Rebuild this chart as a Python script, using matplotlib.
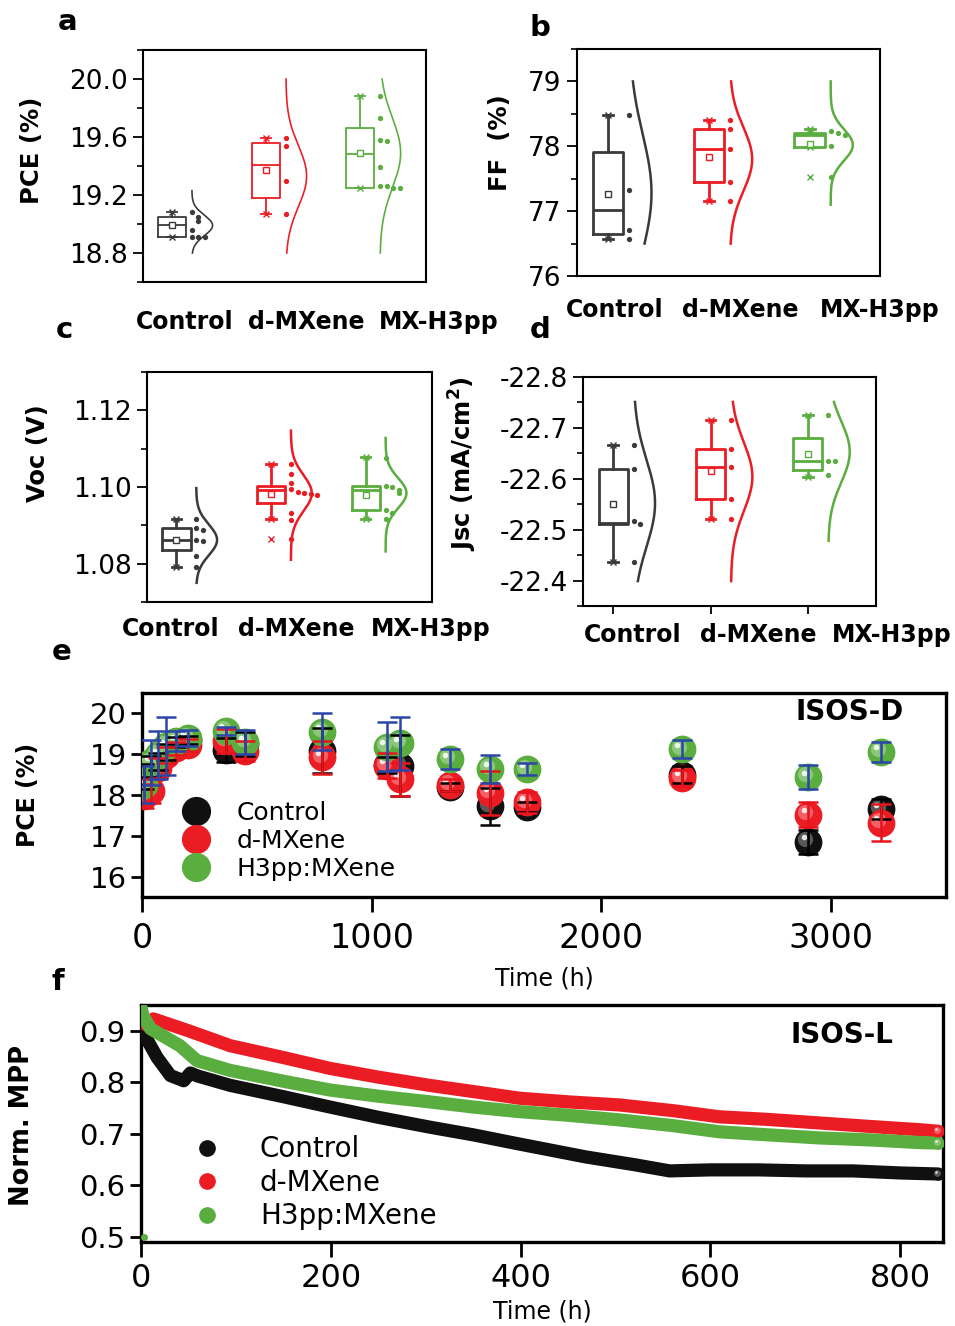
import numpy as np
import matplotlib
matplotlib.use("Agg")
import matplotlib.pyplot as plt
from matplotlib.lines import Line2D
from matplotlib.ticker import MultipleLocator, FormatStrFormatter
from matplotlib.transforms import offset_copy
from matplotlib.colors import to_rgb

plt.rcParams['font.family'] = ['DejaVu Sans']
plt.rcParams['axes.unicode_minus'] = False

# ---- data ----
cats = ["Control", "d-MXene", "MX-H3pp"]
colors = ["#3a3a3a", "#ec1c24", "#5aad3f"]

# a: PCE box stats
pce_q1 = [18.91, 19.18, 19.25]
pce_med = [18.99, 19.41, 19.48]
pce_q3 = [19.05, 19.56, 19.66]
pce_lo = [18.91, 19.07, 19.25]
pce_hi = [19.08, 19.59, 19.88]
pce_mean = [18.99, 19.37, 19.49]
pce_out = [[], [], []]
pce_pts = [[19.08, 19.05, 19.02, 18.96, 18.91, 18.91, 18.91],
           [19.59, 19.54, 19.30, 19.07],
           [19.88, 19.73, 19.58, 19.57, 19.39, 19.26, 19.26, 19.25, 19.25]]
pce_fit = [[18.99, 0.07, 18.80, 19.23], [19.33, 0.21, 18.80, 20.0], [19.49, 0.24, 18.80, 20.0]]

# b: FF
ff_q1 = [76.64, 77.45, 77.99]
ff_med = [77.02, 77.96, 78.18]
ff_q3 = [77.91, 78.27, 78.21]
ff_lo = [76.57, 77.16, 77.99]
ff_hi = [78.48, 78.41, 78.26]
ff_mean = [77.27, 77.84, 78.03]
ff_out = [[], [], [77.53]]
ff_pts = [[78.48, 77.33, 76.71, 76.57],
          [78.41, 78.27, 77.96, 77.45, 77.16],
          [78.23, 78.20, 78.17, 78.00, 77.53]]
ff_fit = [[77.28, 0.90, 76.5, 79.0], [77.80, 0.49, 76.5, 79.0], [78.02, 0.24, 77.1, 79.0]]

# c: Voc
voc_q1 = [1.0835, 1.0957, 1.0939]
voc_med = [1.0863, 1.0993, 1.0993]
voc_q3 = [1.0893, 1.1002, 1.1002]
voc_lo = [1.0791, 1.0917, 1.0917]
voc_hi = [1.0917, 1.1061, 1.1078]
voc_mean = [1.0863, 1.0982, 1.0980]
voc_out = [[], [1.0865], []]
voc_pts = [[1.0917, 1.0894, 1.0888, 1.0862, 1.0858, 1.0821, 1.0791],
           [1.1061, 1.1035, 1.1010, 1.0995, 1.0988, 1.0985, 1.0983, 1.0980, 1.0932, 1.0915, 1.0865],
           [1.1076, 1.1002, 1.0999, 1.0993, 1.0985, 1.0941, 1.0932, 1.0917]]
voc_fit = [[1.0862, 0.0040, 1.0750, 1.0997], [1.0984, 0.0047, 1.0810, 1.1147], [1.0984, 0.0039, 1.0832, 1.1128]]

# d: Jsc
jsc_q1 = [-22.511, -22.560, -22.617]
jsc_med = [-22.514, -22.624, -22.634]
jsc_q3 = [-22.620, -22.658, -22.681]
jsc_lo = [-22.436, -22.521, -22.604]
jsc_hi = [-22.666, -22.715, -22.725]
jsc_mean = [-22.550, -22.616, -22.649]
jsc_out = [[], [], []]
jsc_pts = [[-22.666, -22.619, -22.517, -22.511, -22.436],
           [-22.715, -22.658, -22.624, -22.560, -22.521],
           [-22.725, -22.634, -22.635, -22.607]]
jsc_fit = [[-22.552, 0.085, -22.751, -22.399], [-22.604, 0.067, -22.751, -22.399], [-22.653, 0.060, -22.751, -22.478]]

# e: ISOS-D
t_d = [10, 40, 70, 105, 150, 200, 365, 450, 785, 1065, 1125, 1340, 1515, 1675, 2350, 2900, 3215]
pce_ctrl = [18.45, 18.70, 18.82, 19.05, 19.30, 19.35, 19.10, 19.25, 19.08, 18.74, 18.72, 18.20, 17.72, 17.70, 18.50, 16.85, 17.65]
pce_dmx = [17.98, 18.10, 18.66, 18.98, 19.14, 19.22, 19.32, 19.08, 18.92, 18.72, 18.38, 18.24, 18.05, 17.82, 18.42, 17.52, 17.32]
pce_h3 = [18.25, 18.80, 18.98, 19.20, 19.32, 19.40, 19.57, 19.30, 19.55, 19.18, 19.27, 18.88, 18.64, 18.63, 19.12, 18.44, 19.06]
err_ctrl = [0.30, 0.25, 0.20, 0.20, 0.12, 0.10, 0.30, 0.30, 0.55, 0.20, 0.75, 0.10, 0.45, 0.12, 0.20, 0.30, 0.25]
err_dmx = [0.30, 0.30, 0.25, 0.20, 0.15, 0.15, 0.30, 0.25, 0.40, 0.30, 0.40, 0.15, 0.55, 0.25, 0.20, 0.30, 0.45]
err_h3 = [0.45, 0.55, 0.60, 0.70, 0.25, 0.20, 0.10, 0.30, 0.45, 0.60, 0.65, 0.25, 0.35, 0.15, 0.22, 0.30, 0.25]

# f: ISOS-L
t_c = [0, 3, 17, 31, 45, 52, 60, 77, 94, 150, 199, 250, 304, 350, 399, 469, 520, 557, 600, 650, 700, 750, 800, 840]
mpp_c = [0.900, 0.894, 0.848, 0.813, 0.803, 0.818, 0.812, 0.803, 0.794, 0.772, 0.752, 0.732, 0.713, 0.698, 0.680,
         0.655, 0.640, 0.628, 0.630, 0.630, 0.628, 0.628, 0.624, 0.622]
t_r = [5, 13, 50, 94, 150, 199, 250, 304, 350, 399, 450, 504, 560, 609, 660, 715, 770, 820, 840]
mpp_r = [0.912, 0.923, 0.900, 0.871, 0.848, 0.827, 0.810, 0.794, 0.782, 0.769, 0.762, 0.756, 0.745, 0.733,
         0.728, 0.721, 0.714, 0.708, 0.705]
t_g = [0, 2, 10, 41, 59, 94, 150, 199, 250, 304, 350, 399, 450, 504, 560, 609, 660, 715, 770, 820, 840]
mpp_g = [0.945, 0.930, 0.904, 0.871, 0.842, 0.823, 0.802, 0.785, 0.773, 0.762, 0.752, 0.743, 0.736, 0.727,
         0.716, 0.704, 0.698, 0.692, 0.688, 0.683, 0.682]
stray_t, stray_v = [3], [0.50]

W, H = 955, 1326
fig = plt.figure(figsize=(9.55, 13.26), dpi=100)


def rect(x0, y0, x1, y1):
    return [x0 / W, 1 - y1 / H, (x1 - x0) / W, (y1 - y0) / H]


def ftext(x, y, s, **kw):
    fig.text(x / W, 1 - y / H, s, ha='center', va='center', **kw)


def box_panel(ax, q1, med, q3, lo, hi, mean, out, pts, fit, ylim, lw):
    span = abs(ylim[1] - ylim[0])
    for i in range(3):
        c = colors[i]
        st = dict(q1=q1[i], med=med[i], q3=q3[i], whislo=lo[i], whishi=hi[i], mean=mean[i], fliers=out[i])
        ax.bxp([st], positions=[i], widths=0.3, capwidths=0.1, showmeans=True, manage_ticks=False,
               boxprops=dict(color=c, lw=lw), medianprops=dict(color=c, lw=lw),
               whiskerprops=dict(color=c, lw=lw), capprops=dict(color=c, lw=lw),
               meanprops=dict(marker='s', mfc='white', mec=c, ms=4.5, mew=1),
               flierprops=dict(marker='x', mec=c, ms=4, mew=1))
        ax.plot([i, i], [lo[i], hi[i]], 'x', color=c, ms=5, mew=1)
        placed, xs = [], []
        for v in pts[i]:
            k = sum(1 for p in placed if abs(p - v) < 0.025 * span)
            placed.append(v)
            xs.append(i + 0.21 + 0.07 * k)
        ax.plot(xs, pts[i], 'o', color=c, ms=3.8, mew=0)
        mu, sd, ya, yb = fit[i]
        yy = np.linspace(ya, yb, 200)
        ax.plot(i + 0.21 + 0.22 * np.exp(-0.5 * ((yy - mu) / sd) ** 2), yy, color=c, lw=lw * 0.9)
    ax.set_xlim(-0.31, 2.70)
    ax.set_xticks([])
    for s in ax.spines.values():
        s.set_linewidth(1.5)
    ax.tick_params(axis='y', which='major', direction='out', length=7, width=1.3, labelsize=19, pad=4)
    ax.tick_params(axis='y', which='minor', direction='out', length=4, width=1.2)


# ---- a ----
ax_a = fig.add_axes(rect(143, 50, 426, 282))
box_panel(ax_a, pce_q1, pce_med, pce_q3, pce_lo, pce_hi, pce_mean, pce_out, pce_pts, pce_fit, (18.6, 20.2), 1.3)
ax_a.set_yticks([18.8, 19.2, 19.6, 20.0])
ax_a.yaxis.set_major_formatter(FormatStrFormatter('%.1f'))
ax_a.yaxis.set_minor_locator(MultipleLocator(0.2))
ax_a.set_ylim(18.6, 20.2)

# ---- b ----
ax_b = fig.add_axes(rect(577, 49, 880, 276))
box_panel(ax_b, ff_q1, ff_med, ff_q3, ff_lo, ff_hi, ff_mean, ff_out, ff_pts, ff_fit, (76.0, 79.5), 2.0)
ax_b.set_yticks([76, 77, 78, 79])
ax_b.yaxis.set_minor_locator(MultipleLocator(0.5))
ax_b.set_ylim(76.0, 79.5)

# ---- c ----
ax_c = fig.add_axes(rect(147, 372, 432, 602))
box_panel(ax_c, voc_q1, voc_med, voc_q3, voc_lo, voc_hi, voc_mean, voc_out, voc_pts, voc_fit, (1.070, 1.130), 2.0)
ax_c.set_yticks([1.08, 1.10, 1.12])
ax_c.yaxis.set_major_formatter(FormatStrFormatter('%.2f'))
ax_c.yaxis.set_minor_locator(MultipleLocator(0.01))
ax_c.set_ylim(1.070, 1.130)

# ---- d ----
ax_d = fig.add_axes(rect(583, 377, 876, 606))
box_panel(ax_d, jsc_q1, jsc_med, jsc_q3, jsc_lo, jsc_hi, jsc_mean, jsc_out, jsc_pts, jsc_fit, (-22.35, -22.80), 2.0)
ax_d.set_yticks([-22.8, -22.7, -22.6, -22.5, -22.4])
ax_d.yaxis.set_major_formatter(FormatStrFormatter('%.1f'))
ax_d.yaxis.set_minor_locator(MultipleLocator(0.05))
ax_d.set_xticks([0, 1, 2])
ax_d.set_xticklabels([])
ax_d.tick_params(axis='x', direction='out', length=6, width=1.3)
ax_d.set_ylim(-22.35, -22.80)

# category labels and y labels for a-d
cat_rows = [(322, [185, 306, 439]), (310, [615, 740, 880]), (629, [171, 296, 431]), (635, [633, 758, 892])]
for yy, xs in cat_rows:
    for x, name in zip(xs, cats):
        ftext(x, yy, name, fontsize=17, fontweight='bold')

ftext(32, 150, "PCE (%)", fontsize=17.5, fontweight='bold', rotation=90)
ftext(500, 143, "FF  (%)", fontsize=17.5, fontweight='bold', rotation=90)
ftext(38, 453, "Voc (V)", fontsize=17.5, fontweight='bold', rotation=90)
ftext(463, 464, "Jsc (mA/cm$^\\mathbf{2}$)", fontsize=17.5, fontweight='bold', rotation=90)

for x, y, s in [(68, 22, 'a'), (540, 28, 'b'), (64, 330, 'c'), (540, 330, 'd'), (62, 652, 'e'), (58, 982, 'f')]:
    ftext(x, y, s, fontsize=21, fontweight='bold')


# ---- e ----
def lighten(c, f):
    r, g, b = to_rgb(c)
    return (r + (1 - r) * f, g + (1 - g) * f, b + (1 - b) * f)


def balls(ax, x, y, c, ms, z):
    ax.plot(x, y, 'o', color=c, ms=ms, mew=0, zorder=z)
    tr1 = offset_copy(ax.transData, fig=fig, x=-ms * 0.1, y=ms * 0.1, units='points')
    ax.plot(x, y, 'o', color=lighten(c, 0.3), ms=ms * 0.55, mew=0, transform=tr1, zorder=z)
    tr2 = offset_copy(ax.transData, fig=fig, x=-ms * 0.16, y=ms * 0.16, units='points')
    ax.plot(x, y, 'o', color='white', ms=ms * 0.2, mew=0, alpha=0.85, transform=tr2, zorder=z)


ball_black, ball_red, ball_green = "#101010", "#ec1c24", "#5aad3f"
ax_e = fig.add_axes(rect(142, 693, 946, 897))
balls(ax_e, t_d, pce_ctrl, ball_black, 20, 3)
balls(ax_e, t_d, pce_dmx, ball_red, 20, 4)
balls(ax_e, t_d, pce_h3, ball_green, 20, 5)
ax_e.errorbar(t_d, pce_ctrl, yerr=err_ctrl, fmt='none', ecolor='black', elinewidth=1.8, capsize=7, capthick=1.8, zorder=10)
ax_e.errorbar(t_d, pce_dmx, yerr=err_dmx, fmt='none', ecolor='#e8141c', elinewidth=1.8, capsize=7, capthick=1.8, zorder=10)
ax_e.errorbar(t_d, pce_h3, yerr=err_h3, fmt='none', ecolor='#2a46a8', elinewidth=1.8, capsize=7, capthick=1.8, zorder=10)
ax_e.set_xlim(0, 3500)
ax_e.set_ylim(15.5, 20.5)
ax_e.set_yticks([16, 17, 18, 19, 20])
ax_e.set_xticks([0, 1000, 2000, 3000])
for s in ax_e.spines.values():
    s.set_linewidth(2.4)
ax_e.tick_params(axis='y', direction='out', length=8, width=2, labelsize=21, pad=3)
ax_e.tick_params(axis='x', direction='out', length=11, width=2, labelsize=24, pad=7)
ax_e.set_xlabel("Time (h)", fontsize=17, labelpad=8)
ftext(28, 795, "PCE (%)", fontsize=17, fontweight='bold', rotation=90)
ax_e.text(0.88, 0.905, "ISOS-D", transform=ax_e.transAxes, ha='center', va='center', fontsize=20, fontweight='bold')
h_e = [Line2D([], [], ls='none', marker='o', ms=20, color=c) for c in (ball_black, ball_red, ball_green)]
ax_e.legend(h_e, ["Control", "d-MXene", "H3pp:MXene"], loc='upper left', bbox_to_anchor=(0.052, 0.47),
            frameon=False, fontsize=18, handlelength=1.0, handletextpad=1.1, labelspacing=0.16,
            borderpad=0, borderaxespad=0)

# ---- f ----
ax_f = fig.add_axes(rect(141, 1005, 943, 1242))
ax_f.plot(t_c, mpp_c, color=ball_black, lw=9.5, solid_capstyle='round', solid_joinstyle='round', zorder=3)
ax_f.plot(t_r, mpp_r, color=ball_red, lw=9.5, solid_capstyle='round', solid_joinstyle='round', zorder=4)
ax_f.plot(t_g, mpp_g, color=ball_green, lw=9.5, solid_capstyle='round', solid_joinstyle='round', zorder=5)
for tt, vv, c in [(t_c, mpp_c, ball_black), (t_r, mpp_r, ball_red), (t_g, mpp_g, ball_green)]:
    balls(ax_f, tt[-1:], vv[-1:], c, 9, 6)
ax_f.plot(stray_t, stray_v, 'o', color=ball_green, ms=5, mew=0, clip_on=False, zorder=6)
ax_f.set_xlim(0, 845)
ax_f.set_ylim(0.49, 0.95)
ax_f.set_yticks([0.5, 0.6, 0.7, 0.8, 0.9])
ax_f.set_xticks([0, 200, 400, 600, 800])
for s in ax_f.spines.values():
    s.set_linewidth(2.4)
ax_f.tick_params(axis='y', direction='out', length=8, width=2, labelsize=21, pad=3)
ax_f.tick_params(axis='x', direction='out', length=11, width=2, labelsize=23, pad=4)
ax_f.set_xlabel("Time (h)", fontsize=17, labelpad=4)
ftext(22, 1125, "Norm. MPP", fontsize=18.5, fontweight='bold', rotation=90)
ax_f.text(0.874, 0.873, "ISOS-L", transform=ax_f.transAxes, ha='center', va='center', fontsize=20, fontweight='bold')
h_f = [Line2D([], [], ls='none', marker='o', ms=11, color=c) for c in (ball_black, ball_red, ball_green)]
ax_f.legend(h_f, ["Control", "d-MXene", "H3pp:MXene"], loc='upper left', bbox_to_anchor=(0.065, 0.45),
            frameon=False, fontsize=20, handlelength=1.0, handletextpad=1.4, labelspacing=0.2,
            borderpad=0, borderaxespad=0)

fig.savefig("out.png", dpi=100)
